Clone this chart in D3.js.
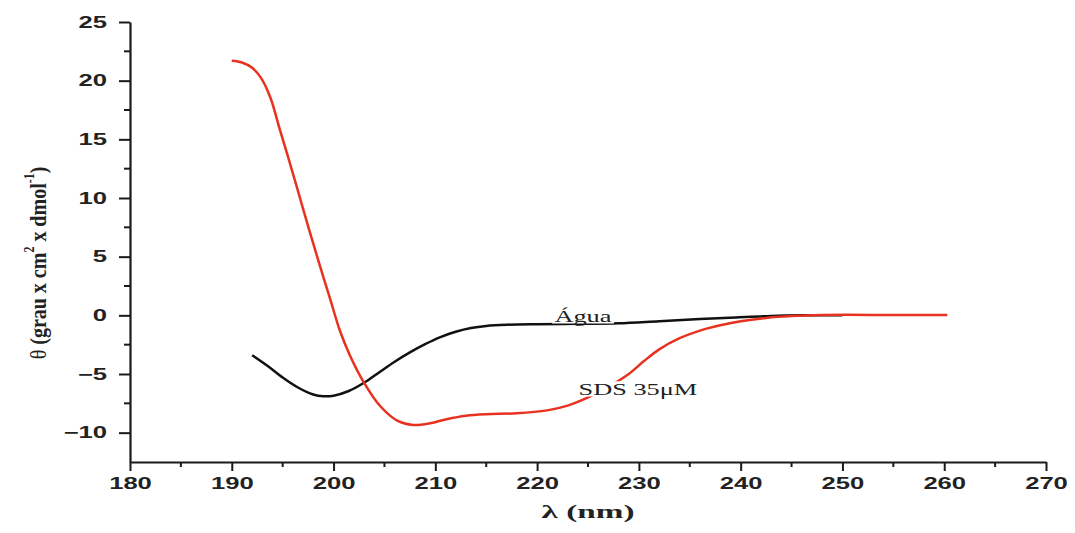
<!DOCTYPE html>
<html>
<head>
<meta charset="utf-8">
<script src="https://cdn.jsdelivr.net/npm/d3@7"></script>
<style>
  html, body { margin: 0; padding: 0; background: #fff; }
  svg { display: block; }
</style>
</head>
<body>
<svg id="chart" width="1075" height="533"></svg>
<script>
// ---- data ----
const xTicks = [180, 190, 200, 210, 220, 230, 240, 250, 260, 270];
const yTicks = [-10, -5, 0, 5, 10, 15, 20, 25];
const aguaWavelength = [192, 193.5, 195, 196.5, 198, 199, 200, 201.5, 203, 204.5, 206, 207.5, 209, 210.5, 212, 213.5, 215, 217, 220, 224, 228, 232, 236, 239.5, 243, 246, 250];
const aguaTheta      = [-3.4, -4.3, -5.3, -6.15, -6.75, -6.9, -6.85, -6.45, -5.75, -4.85, -3.95, -3.15, -2.45, -1.85, -1.4, -1.08, -0.9, -0.8, -0.75, -0.72, -0.68, -0.5, -0.32, -0.18, -0.05, 0, 0];
const sdsWavelength  = [190, 191, 192, 192.9, 193.8, 194.7, 195.7, 196.7, 197.7, 198.7, 199.7, 200.6, 201.6, 202.9, 204.6, 206.3, 207.8, 209.5, 211.1, 213, 215, 218, 221, 223, 225, 227, 229, 230.5, 232, 234, 236, 238, 240, 242.5, 245, 248, 255, 260.3];
const sdsTheta       = [21.7, 21.55, 21.1, 20.2, 18.55, 15.9, 13.0, 10.0, 7.0, 4.1, 1.3, -1.25, -3.4, -5.6, -7.75, -9.0, -9.35, -9.2, -8.85, -8.55, -8.42, -8.35, -8.1, -7.7, -7.0, -6.1, -5.0, -3.9, -2.9, -1.95, -1.3, -0.85, -0.5, -0.22, -0.06, 0.03, 0.03, 0.02];
const seriesLabels = ["Água", "SDS 35μM"];

// ---- layout ----
const W = 1075, H = 533;
const margin = { left: 130, right: 29, top: 22, bottom: 71 };
const svg = d3.select("#chart");

const x = d3.scaleLinear().domain([180, 270]).range([margin.left, W - margin.right]);
const y = d3.scaleLinear().domain([-12.5, 25]).range([H - margin.bottom, margin.top]);

const axisColor = "#1a1a1a";
const tickFont = "'Liberation Sans', Arial, sans-serif";
const serif = "'Liberation Serif', 'Times New Roman', serif";
const stretch = 1.6;

// minor ticks
const xMinor = d3.range(185, 270, 10);
const yMinor = d3.range(-7.5, 25, 5);

const gx = svg.append("g").attr("transform", `translate(0,${y(-12.5)})`);
gx.call(d3.axisBottom(x).tickValues(xTicks).tickFormat(d3.format("d")).tickSize(9).tickPadding(7).tickSizeOuter(0));
gx.append("g").selectAll("line").data(xMinor).join("line")
  .attr("x1", d => x(d)).attr("x2", d => x(d)).attr("y1", 0).attr("y2", 5)
  .attr("stroke", axisColor).attr("stroke-width", 2);

const gy = svg.append("g").attr("transform", `translate(${x(180)},0)`);
gy.call(d3.axisLeft(y).tickValues(yTicks).tickFormat(d3.format("d")).tickSize(11).tickPadding(10).tickSizeOuter(0));
gy.append("g").selectAll("line").data(yMinor).join("line")
  .attr("y1", d => y(d)).attr("y2", d => y(d)).attr("x1", 0).attr("x2", -6)
  .attr("stroke", axisColor).attr("stroke-width", 2);

[gx, gy].forEach(g => {
  g.select(".domain").attr("stroke", axisColor).attr("stroke-width", 2.2);
  g.selectAll(".tick line").attr("stroke", axisColor).attr("stroke-width", 2);
  g.selectAll(".tick text").attr("fill", "#222").attr("font-family", tickFont)
    .attr("font-weight", "bold").attr("font-size", 16);
});
gx.selectAll(".tick text").attr("transform", `scale(${stretch},1)`);
gy.selectAll(".tick text").attr("x", 0).attr("transform", `translate(-23,0) scale(${stretch},1)`);

// ---- curves ----
const line = d3.line().x(d => x(d[0])).y(d => y(d[1])).curve(d3.curveCatmullRom.alpha(0.5));
const aguaData = aguaWavelength.map((w, i) => [w, aguaTheta[i]]);
const sdsData = sdsWavelength.map((w, i) => [w, sdsTheta[i]]);

svg.append("path").datum(aguaData).attr("d", line)
  .attr("fill", "none").attr("stroke", "#111").attr("stroke-width", 2.5);
svg.append("path").datum(sdsData).attr("d", line)
  .attr("fill", "none").attr("stroke", "#e8321f").attr("stroke-width", 2.5);

// ---- inline labels with white background ----
function inlineLabel(text, cx, cy) {
  const g = svg.append("g").attr("transform", `translate(${cx},${cy}) scale(1.55,1)`);
  const t = g.append("text").attr("x", 0).attr("y", 0)
    .attr("text-anchor", "middle").attr("dominant-baseline", "central")
    .attr("font-family", serif).attr("font-size", 17).attr("fill", "#222").text(text);
  const bb = t.node().getBBox();
  g.insert("rect", "text").attr("x", bb.x - 1.5).attr("y", bb.y + 2)
    .attr("width", bb.width + 3).attr("height", bb.height - 4).attr("fill", "#fff");
}
inlineLabel(seriesLabels[0], x(224.5), y(-0.05));
inlineLabel(seriesLabels[1], x(229.9), y(-6.27));

// ---- axis titles ----
svg.append("text")
  .attr("transform", `translate(${x(225)},518) scale(1.75,1)`)
  .attr("text-anchor", "middle").attr("font-family", serif)
  .attr("font-weight", "bold").attr("font-size", 19).attr("fill", "#222")
  .text("λ (nm)");

const yt = svg.append("text")
  .attr("transform", `translate(46,263) rotate(-90) scale(1,1.2)`)
  .attr("text-anchor", "middle").attr("font-family", serif)
  .attr("font-weight", "bold").attr("font-size", 20).attr("fill", "#222");
yt.append("tspan").attr("font-weight", "normal").text("θ ");
yt.append("tspan").text("(grau x cm");
yt.append("tspan").attr("font-size", 12).attr("dy", -10).text("2");
yt.append("tspan").attr("dy", 10).text(" x dmol");
yt.append("tspan").attr("font-size", 12).attr("dy", -10).text("-1");
yt.append("tspan").attr("dy", 10).text(")");
</script>
</body>
</html>
